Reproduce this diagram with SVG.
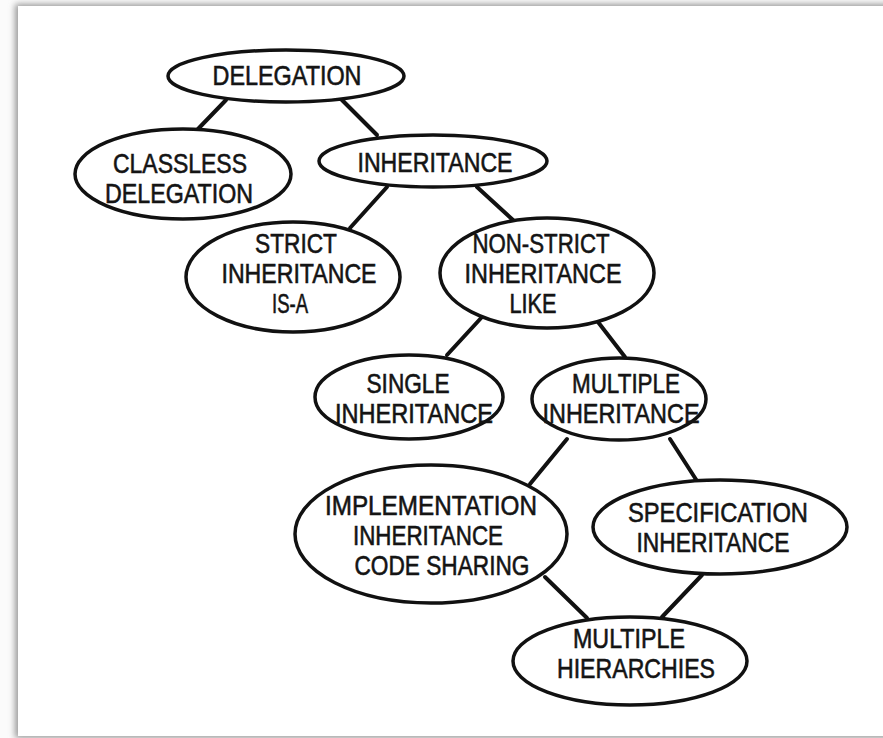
<svg xmlns="http://www.w3.org/2000/svg" width="883" height="738" viewBox="0 0 883 738">
  <defs>
    <filter id="cardShadow" x="-5%" y="-5%" width="110%" height="110%">
      <feGaussianBlur stdDeviation="3"/>
    </filter>
  </defs>
  <style>
    .node ellipse { fill: #ffffff; stroke: #111111; stroke-width: 3.5; }
    .node text { font-family: "Liberation Sans", Arial, sans-serif; font-size: 28px; fill: #141414; stroke: #141414; stroke-width: 0.6; text-anchor: middle; }
    #connectors line { stroke: #111111; stroke-width: 4; stroke-linecap: round; }
  </style>

  <!-- page background and card -->
  <rect x="0" y="0" width="883" height="738" fill="#fbfbfb"/>
  <rect x="15" y="4" width="880" height="734" fill="#9a9a9a" filter="url(#cardShadow)"/>
  <rect x="18" y="6" width="870" height="730" fill="#ffffff"/>

  <!-- tree edges -->
  <g id="connectors">
    <line x1="226" y1="100" x2="198" y2="129"/>
    <line x1="342" y1="100" x2="377" y2="135"/>
    <line x1="387" y1="187" x2="350" y2="228"/>
    <line x1="477" y1="187" x2="513" y2="220"/>
    <line x1="482" y1="317" x2="447" y2="355"/>
    <line x1="598" y1="322" x2="625" y2="357"/>
    <line x1="567" y1="439" x2="530" y2="484"/>
    <line x1="670" y1="439" x2="697" y2="481"/>
    <line x1="545" y1="577" x2="587" y2="618"/>
    <line x1="702" y1="575" x2="662" y2="617"/>
  </g>

  <g id="delegation" class="node">
    <ellipse cx="286" cy="76" rx="118" ry="26"/>
    <text x="287" y="85" textLength="149" lengthAdjust="spacingAndGlyphs">DELEGATION</text>
  </g>

  <g id="classless-delegation" class="node">
    <ellipse cx="183" cy="174" rx="108" ry="45"/>
    <text x="180" y="173" textLength="134" lengthAdjust="spacingAndGlyphs">CLASSLESS</text>
    <text x="179" y="203" textLength="148" lengthAdjust="spacingAndGlyphs">DELEGATION</text>
  </g>

  <g id="inheritance" class="node">
    <ellipse cx="433" cy="161" rx="114" ry="26"/>
    <text x="435" y="172" textLength="155" lengthAdjust="spacingAndGlyphs">INHERITANCE</text>
  </g>

  <g id="strict-inheritance" class="node">
    <ellipse cx="293" cy="277" rx="107" ry="55"/>
    <text x="296" y="253" textLength="82" lengthAdjust="spacingAndGlyphs">STRICT</text>
    <text x="299" y="283" textLength="155" lengthAdjust="spacingAndGlyphs">INHERITANCE</text>
    <text x="290" y="313" textLength="36" lengthAdjust="spacingAndGlyphs">IS-A</text>
  </g>

  <g id="non-strict-inheritance" class="node">
    <ellipse cx="547" cy="273" rx="107" ry="55"/>
    <text x="541" y="253" textLength="137" lengthAdjust="spacingAndGlyphs">NON-STRICT</text>
    <text x="543" y="283" textLength="157" lengthAdjust="spacingAndGlyphs">INHERITANCE</text>
    <text x="533" y="313" textLength="47" lengthAdjust="spacingAndGlyphs">LIKE</text>
  </g>

  <g id="single-inheritance" class="node">
    <ellipse cx="409" cy="397" rx="94" ry="42"/>
    <text x="408" y="393" textLength="83" lengthAdjust="spacingAndGlyphs">SINGLE</text>
    <text x="414" y="423" textLength="158" lengthAdjust="spacingAndGlyphs">INHERITANCE</text>
  </g>

  <g id="multiple-inheritance" class="node">
    <ellipse cx="619" cy="399" rx="87" ry="41"/>
    <text x="626" y="393" textLength="108" lengthAdjust="spacingAndGlyphs">MULTIPLE</text>
    <text x="621" y="423" textLength="157" lengthAdjust="spacingAndGlyphs">INHERITANCE</text>
  </g>

  <g id="implementation-inheritance" class="node">
    <ellipse cx="431" cy="534" rx="136" ry="69"/>
    <text x="431" y="515" textLength="212" lengthAdjust="spacingAndGlyphs">IMPLEMENTATION</text>
    <text x="428" y="545" textLength="150" lengthAdjust="spacingAndGlyphs">INHERITANCE</text>
    <text x="442" y="575" textLength="175" lengthAdjust="spacingAndGlyphs">CODE SHARING</text>
  </g>

  <g id="specification-inheritance" class="node">
    <ellipse cx="720" cy="527" rx="127" ry="47"/>
    <text x="718" y="522" textLength="180" lengthAdjust="spacingAndGlyphs">SPECIFICATION</text>
    <text x="713" y="552" textLength="153" lengthAdjust="spacingAndGlyphs">INHERITANCE</text>
  </g>

  <g id="multiple-hierarchies" class="node">
    <ellipse cx="630" cy="661" rx="117" ry="44"/>
    <text x="629" y="648" textLength="112" lengthAdjust="spacingAndGlyphs">MULTIPLE</text>
    <text x="636" y="678" textLength="158" lengthAdjust="spacingAndGlyphs">HIERARCHIES</text>
  </g>
</svg>
